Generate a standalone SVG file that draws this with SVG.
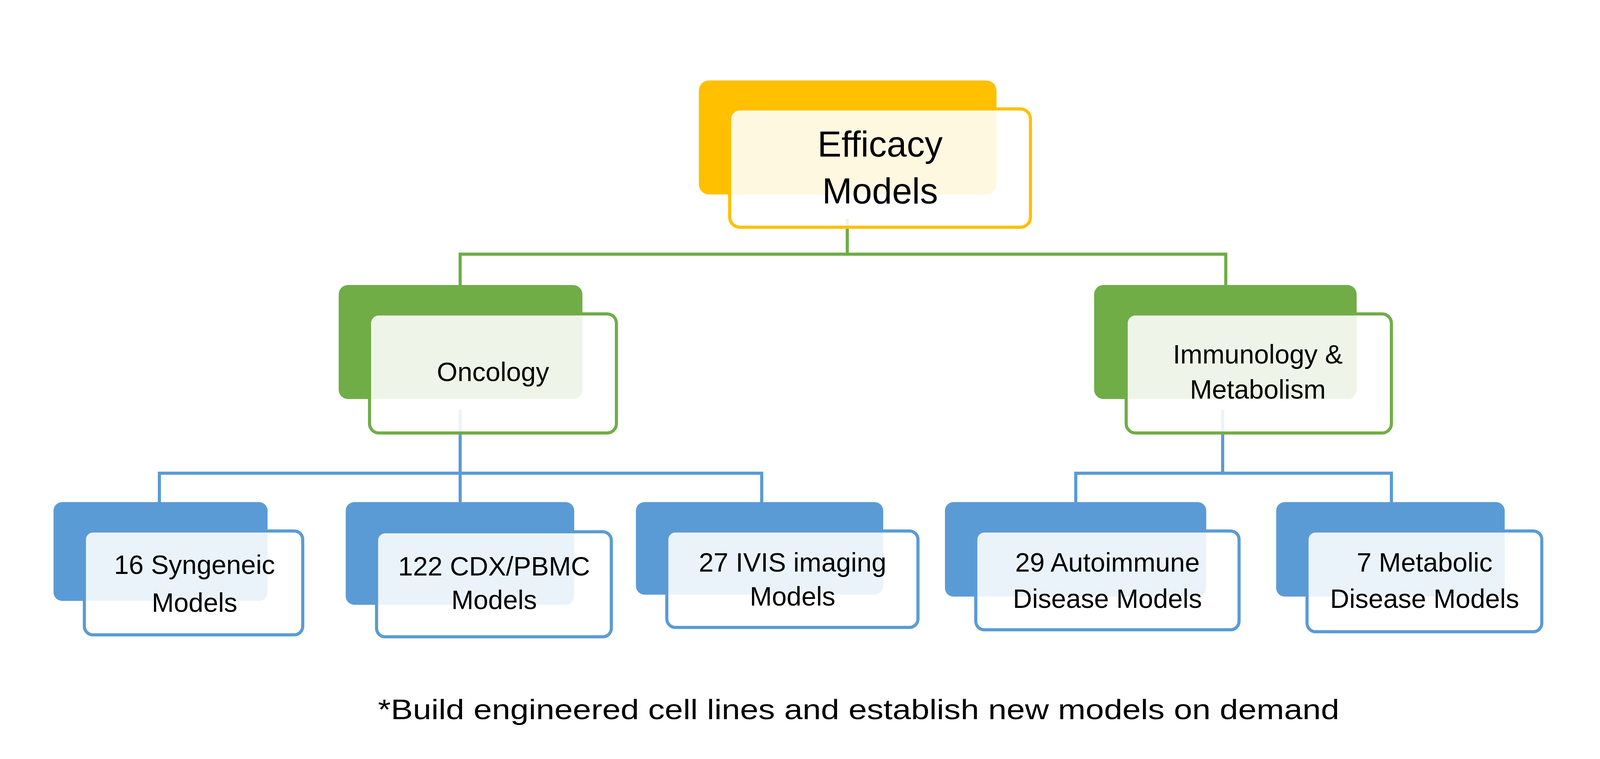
<svg xmlns="http://www.w3.org/2000/svg" width="4100" height="1944" viewBox="0 0 4100 1944">
<style>
.t{font-family:"Liberation Sans",Arial,sans-serif;fill:#000;text-anchor:middle}
.f{fill:#fff;fill-opacity:0.88;stroke-width:8}
.y{fill:#FFC000}.yb{stroke:#FFC000}
.g{fill:#70AD47}.gb{stroke:#70AD47}
.b{fill:#5B9BD5}.bb{stroke:#5B9BD5}
.c{fill:none;stroke-width:8}
</style>
<rect width="4100" height="1944" fill="#fff"/>
<g id="connectors">
<path class="c" stroke="#70AD47" d="M2169 560V651M1178 651H3138M1178 647V730M3138 647V730"/>
<path class="c" stroke="#5B9BD5" d="M1178 1050V1212M408 1212H1950M408 1208V1286M1178 1208V1286M1950 1208V1286M3130 1050V1212M2754 1212H3562M2754 1208V1286M3562 1208V1286"/>
</g>
<g id="efficacy">
<rect class="y" x="1789" y="206" width="762" height="292" rx="26"/>
<rect class="f yb" x="1868" y="279" width="770" height="303" rx="26"/>
<text class="t" x="2253" y="401" font-size="92">Efficacy</text>
<text class="t" x="2253" y="521" font-size="92">Models</text>
</g>
<g id="oncology">
<rect class="g" x="867" y="730" width="624" height="292" rx="24"/>
<rect class="f gb" x="946" y="804" width="632" height="305" rx="24"/>
<text class="t" x="1262" y="976" font-size="68">Oncology</text>
</g>
<g id="immunology">
<rect class="g" x="2801" y="730" width="672" height="292" rx="24"/>
<rect class="f gb" x="2883" y="804" width="679" height="305" rx="24"/>
<text class="t" x="3220" y="931" font-size="68">Immunology &amp;</text>
<text class="t" x="3220" y="1021" font-size="68">Metabolism</text>
</g>
<g id="syngeneic">
<rect class="b" x="137" y="1286" width="548" height="253" rx="22"/>
<rect class="f bb" x="216" y="1360" width="559" height="266" rx="22"/>
<text class="t" x="498" y="1470" font-size="68">16 Syngeneic</text>
<text class="t" x="498" y="1567" font-size="68">Models</text>
</g>
<g id="cdx">
<rect class="b" x="885" y="1286" width="585" height="263" rx="22"/>
<rect class="f bb" x="964" y="1362" width="601" height="269" rx="22"/>
<text class="t" x="1265" y="1474" font-size="68">122 CDX/PBMC</text>
<text class="t" x="1265" y="1560" font-size="68">Models</text>
</g>
<g id="ivis">
<rect class="b" x="1628" y="1286" width="633" height="237" rx="22"/>
<rect class="f bb" x="1707" y="1360" width="643" height="247" rx="22"/>
<text class="t" x="2029" y="1464" font-size="68">27 IVIS imaging</text>
<text class="t" x="2029" y="1551" font-size="68">Models</text>
</g>
<g id="autoimmune">
<rect class="b" x="2419" y="1286" width="669" height="242" rx="22"/>
<rect class="f bb" x="2498" y="1360" width="674" height="253" rx="22"/>
<text class="t" x="2835" y="1464" font-size="68">29 Autoimmune</text>
<text class="t" x="2835" y="1557" font-size="68">Disease Models</text>
</g>
<g id="metabolic">
<rect class="b" x="3267" y="1286" width="585" height="242" rx="22"/>
<rect class="f bb" x="3346" y="1360" width="601" height="258" rx="22"/>
<text class="t" x="3647" y="1464" font-size="68">7 Metabolic</text>
<text class="t" x="3647" y="1557" font-size="68">Disease Models</text>
</g>
<text class="t" x="2198" y="1842" font-size="72" textLength="2461" lengthAdjust="spacingAndGlyphs">*Build engineered cell lines and establish new models on demand</text>
</svg>
